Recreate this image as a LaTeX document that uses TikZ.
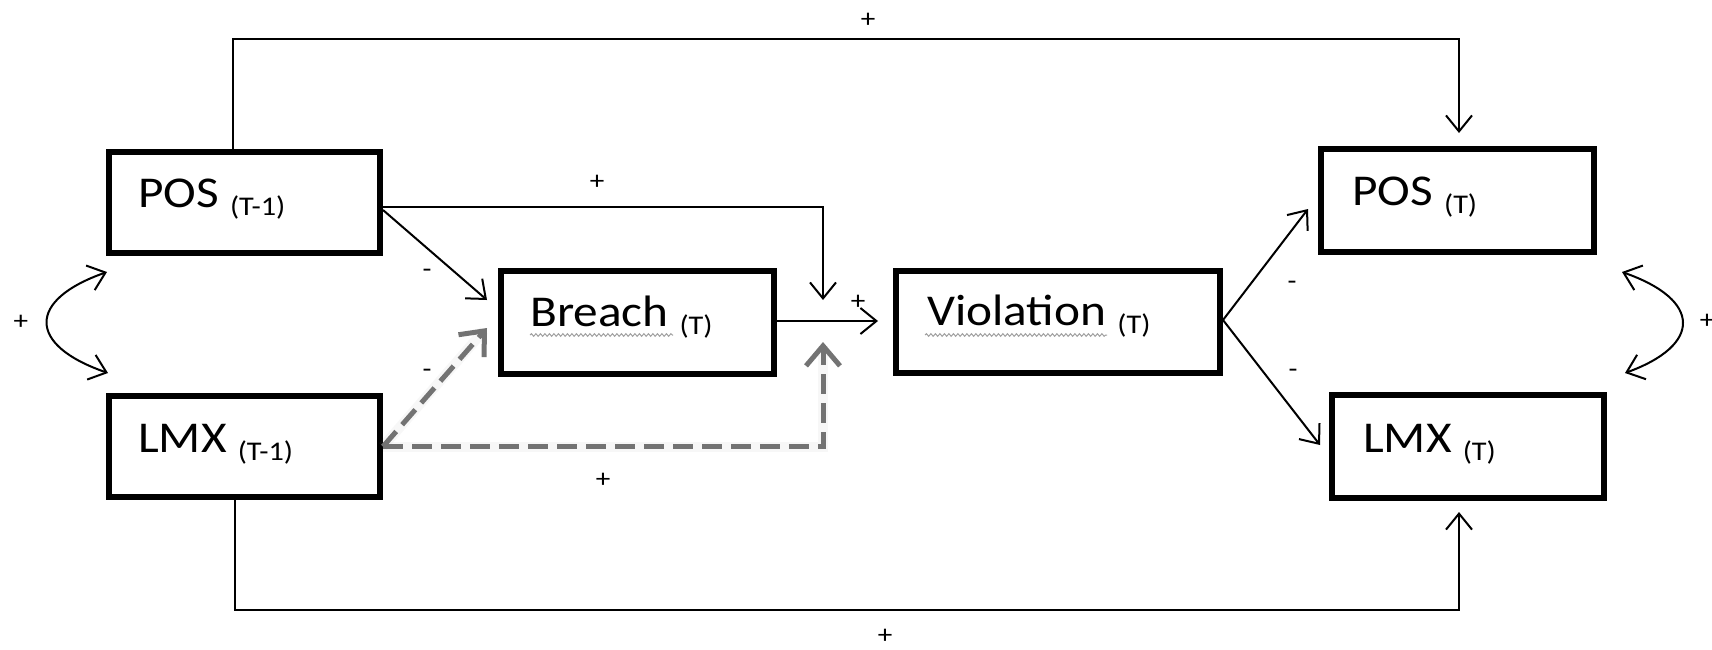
\documentclass[tikz,border=0pt]{standalone}
\usepackage{fontspec}
\setmainfont{Carlito}[FakeStretch=1.12]
\usetikzlibrary{arrows.meta,calc,decorations.pathmorphing}

% lowered, smaller time index after a variable name
\newcommand{\tidx}[1]{\raisebox{-8pt}{\fontsize{27}{27}\selectfont #1}}

\begin{document}
\begin{tikzpicture}[x=1pt,y=-1pt,
  box/.style={draw, line width=6pt, inner sep=0pt},
  txt/.style={inner sep=0pt, anchor=base west, font=\fontsize{44}{44}\selectfont},
  sign/.style={inner sep=0pt, font=\fontsize{26}{26}\selectfont},
  conn/.style={line width=2pt, -{Straight Barb[length=16pt,width=26pt]}},
  both/.style={line width=2pt, {Straight Barb[length=16pt,width=26pt]}-{Straight Barb[length=16pt,width=26pt]}},
  dsh/.style={draw=black!55, line width=5pt, dash pattern=on 20pt off 9pt,
    -{Straight Barb[length=20pt,width=34pt]}},
  halo/.style={draw=black!40, line width=10pt, opacity=0.08},
  squig/.style={draw=gray!75, line width=1pt, decorate,
    decoration={snake, amplitude=1.3pt, segment length=4.5pt}}]

\useasboundingbox (0,0) rectangle (1712,649);

% boxes
\node[box, minimum width=271pt, minimum height=101pt] (pos1) at (244.5,202.5) {};
\node[box, minimum width=271pt, minimum height=101pt] (lmx1) at (244.5,446.5) {};
\node[box, minimum width=273pt, minimum height=103pt] (breach) at (637.5,322.5) {};
\node[box, minimum width=324pt, minimum height=102pt] (viol) at (1058,322) {};
\node[box, minimum width=273pt, minimum height=103pt] (pos2) at (1457.5,200.5) {};
\node[box, minimum width=272pt, minimum height=103pt] (lmx2) at (1468,446.5) {};

% box texts
\node[txt] (pos1t) at (138,207) {POS \tidx{(T-1)}};
\node[txt] (lmx1t) at (138,452) {LMX \tidx{(T-1)}};
\node[txt] (breacht) at (530,326) {Breach \tidx{(T)}};
\node[txt] (violt) at (927,325) {Violation \tidx{(T)}};
\node[txt] (pos2t) at (1352,205) {POS \tidx{(T)}};
\node[txt] (lmx2t) at (1363,452) {LMX \tidx{(T)}};

% spell-check squiggles
\draw[squig] ($(breacht.base west)+(0,9)$) -- ($(breacht.base west)+(143,9)$);
\draw[squig] ($(violt.base west)+(-2,10)$) -- ($(violt.base west)+(180,10)$);

% junction points on the Breach -> Violation link
\coordinate (jtop) at (823,300);
\coordinate (jbot) at (823,342);
\coordinate (top) at (868,39);
\coordinate (bot) at (885,610);

% stability paths
\draw[conn] ($(pos1.north)+(-11.5,0)$) |- (top) -| ($(pos2.north)+(1.5,-13)$);
\draw[conn] ($(lmx1.south)+(-9.5,0)$) |- (bot) -| ($(lmx2.south)+(-9,11)$);

% POS(T-1) effects
\draw[conn] ($(pos1.east)+(0,4.5)$) -| (jtop);
\draw[conn] ($(pos1.east)+(0,7.5)$) -- ($(breach.west)+(-11,-22.5)$);

% LMX(T-1) moderation (dashed)
\draw[halo] (lmx1.east) -- ($(breach.west)+(-14,8)$);
\draw[halo] (lmx1.east) -| ($(jbot)+(0,4)$);
\draw[dsh] (lmx1.east) -- ($(breach.west)+(-11,5.5)$);
\draw[dsh] (lmx1.east) -| (jbot);

% main chain
\draw[conn] ($(breach.east)+(0,-1.5)$) -- ($(viol.west)+(-15,-1)$);
\draw[conn] ($(viol.east)+(0,-2)$) -- ($(pos2.west)+(-10,8.5)$);
\draw[conn] ($(viol.east)+(0,-2)$) -- ($(lmx2.west)+(-9,-1.5)$);

% correlations
\draw[both] ($(pos1.south west)+(1,16)$) .. controls (27,300) and (27,345) .. ($(lmx1.north west)+(2,-20)$);
\draw[both] ($(pos2.south east)+(25,17)$) .. controls (1702,300) and (1702,345) .. ($(lmx2.north east)+(18,-19)$);

% signs
\node[sign] (s1) at (868,20) {+};
\node[sign] (s2) at (885,636) {+};
\node[sign] (s3) at (597,182) {+};
\node[sign] (s4) at (858,302) {+};
\node[sign] (s5) at (603,480) {+};
\node[sign] (s6) at (427,273) {-};
\node[sign] (s7) at (427,373) {-};
\node[sign] (s8) at (1292,285) {-};
\node[sign] (s9) at (1293,373) {-};
\node[sign] (s10) at (21,322) {+};
\node[sign] (s11) at (1707,321) {+};

\end{tikzpicture}
\end{document}
